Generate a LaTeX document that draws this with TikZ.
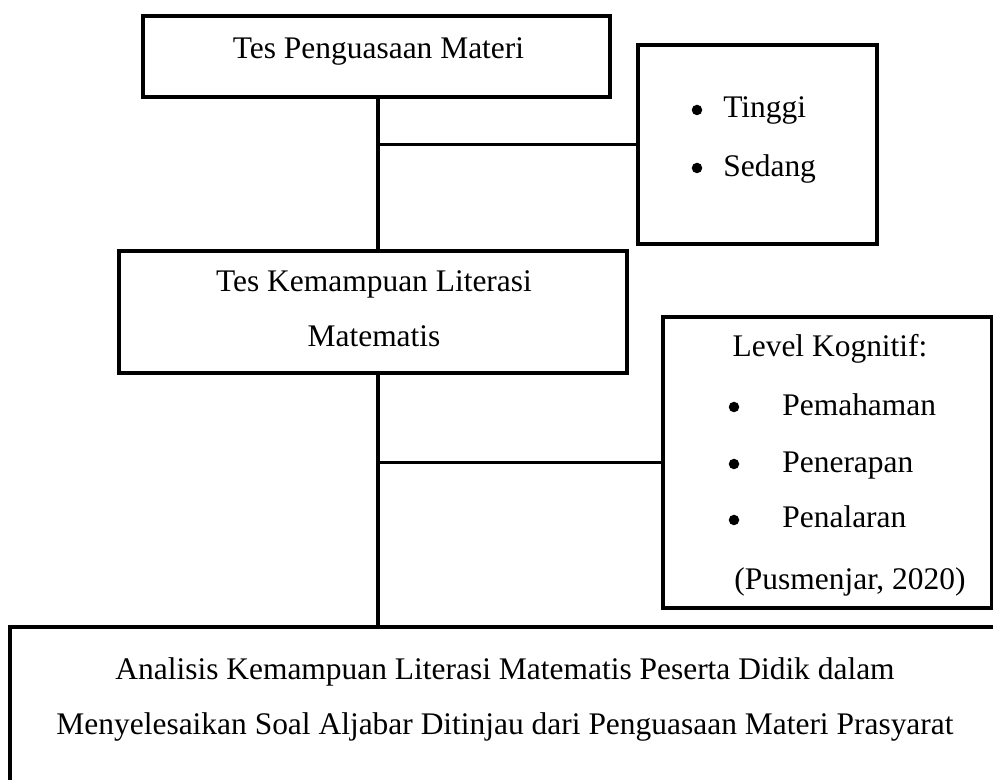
\documentclass[tikz,border=0pt]{standalone}
\usepackage{fontspec}
\setmainfont{Liberation Serif}
\usetikzlibrary{positioning, calc}
\tikzset{
    kotak/.style={rectangle, draw=black, line width=2pt, inner sep=0pt, minimum width=#1},
    garis/.style={line width=2pt, color=black},
    bulat/.style={circle, fill=black, inner sep=0pt, minimum size=0.21cm},
    teks/.style={font=\fontsize{17.9}{31}\selectfont, anchor=base, inner sep=0pt},
    teksw/.style={font=\fontsize{17.9}{31}\selectfont, anchor=base west, inner sep=0pt}
}
\begin{document}
\begin{tikzpicture}
    \path[use as bounding box, clip] (0,0) rectangle (19.86,15.6);

    % === Tes Penguasaan Materi ===
    \node[kotak=9.34cm, minimum height=1.62cm] (tpm) at (7.53,14.47) {};
    \node[teks] (tpmtxt) at (7.57,14.42) {Tes Penguasaan Materi};

    % === Kategori penguasaan ===
    \node[kotak=4.78cm, minimum height=3.98cm] (kat) at (15.15,12.71) {};
    \node[bulat] (b1) at (13.94,13.4) {};
    \node[teksw] (tinggi) at (14.46,13.24) {Tinggi};
    \node[bulat] (b2) at (13.94,12.24) {};
    \node[teksw] (sedang) at (14.46,12.06) {Sedang};

    % === Tes Kemampuan Literasi Matematis ===
    \node[kotak=10.16cm, minimum height=2.44cm] (tkl) at (7.46,9.36) {};
    \node[teks] (tkltxt1) at (7.48,9.76) {Tes Kemampuan Literasi};
    \node[teks] (tkltxt2) at (7.48,8.66) {Matematis};

    % === Level Kognitif ===
    \node[kotak=6.58cm, minimum height=5.82cm] (lvl) at (16.55,6.35) {};
    \node[teks] (lvltxt) at (16.6,8.46) {Level Kognitif:};
    \node[bulat] (b3) at (14.68,7.46) {};
    \node[teksw] (pemahaman) at (15.64,7.28) {Pemahaman};
    \node[bulat] (b4) at (14.68,6.32) {};
    \node[teksw] (penerapan) at (15.64,6.14) {Penerapan};
    \node[bulat] (b5) at (14.68,5.2) {};
    \node[teksw] (penalaran) at (15.64,5.04) {Penalaran};
    \node[teks] (sumber) at (17.0,3.8) {(Pusmenjar, 2020)};

    % === Analisis (judul) ===
    \node[kotak=19.8cm, minimum height=3.26cm] (akl) at (10.1,1.43) {};
    \node[teks] (akltxt1) at (10.1,2.0) {Analisis Kemampuan Literasi Matematis Peserta Didik dalam};
    \node[teks] (akltxt2) at (10.1,0.9) {Menyelesaikan Soal Aljabar Ditinjau dari Penguasaan Materi Prasyarat};

    % === Garis penghubung ===
    \coordinate (x0) at (7.56,0);
    \draw[garis] (x0 |- tpm.south) -- (x0 |- tkl.north);
    \draw[garis] (x0 |- tkl.south) -- (x0 |- akl.north);
    \draw[garis] (x0 |- kat.west) -- (kat.west);
    \draw[garis] (x0 |- lvl.west) -- (lvl.west);
\end{tikzpicture}
\end{document}
